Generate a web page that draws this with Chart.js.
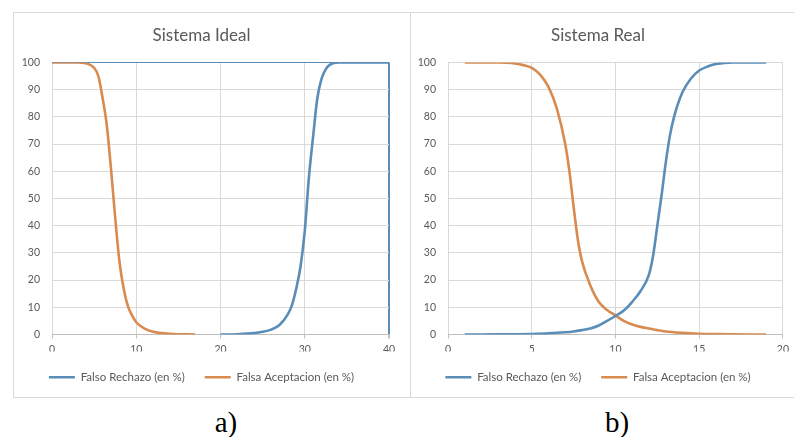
<!DOCTYPE html>
<html>
<head>
<meta charset="utf-8">
<script src="https://cdn.jsdelivr.net/npm/chart.js@4.4.1/dist/chart.umd.min.js"></script>
<style>
  html, body { margin: 0; padding: 0; background: #fff; }
  body { width: 794px; height: 437px; position: relative; overflow: hidden; }
  #frame { position: absolute; left: 13px; top: 12px; width: 800px; height: 384px;
           border: 1px solid #d9d9d9; border-right: none; }
  #divider { position: absolute; left: 410px; top: 12px; width: 1px; height: 385px; background: #d9d9d9; }
  .box { position: absolute; top: 13px; height: 384px; }
  .cap { position: absolute; top: 408px; font-family: "Liberation Serif", serif; font-size: 29px;
         line-height: 29px; color: #000; transform: translateX(-50%); }
</style>
</head>
<body>
<div id="frame"></div>
<div id="divider"></div>
<div class="box" style="left:14px;width:396px"><canvas id="ideal"></canvas></div>
<div class="box" style="left:411px;width:383px"><canvas id="real"></canvas></div>
<div class="cap" style="left:226px">a)</div>
<div class="cap" style="left:617px">b)</div>
<script>
// Sistema Ideal
const idealRechazoX = [20, 22, 24, 25, 26, 27, 28, 28.5, 29, 29.5, 30, 30.5, 31, 31.5, 32, 32.5, 33, 34, 36, 38, 40];
const idealRechazoY = [0, 0.1, 0.5, 1, 1.8, 3.5, 7.5, 11, 17, 25, 38, 58, 73, 87, 94, 97.5, 99.2, 100, 100, 100, 100];
const idealAceptX = [0, 1, 2, 3, 4, 5, 5.5, 6, 6.5, 7, 7.5, 8, 8.5, 9, 9.5, 10, 11, 12, 13, 14, 15, 16, 17];
const idealAceptY = [100, 100, 100, 100, 99.7, 98, 95, 87, 77, 61, 43, 27, 17, 10.5, 7, 4.5, 2.2, 1, 0.5, 0.25, 0.1, 0.05, 0];
const idealTicksX = [0, 10, 20, 30, 40];

// Sistema Real
const realRechazoX = [1, 2, 3, 4, 5, 6, 7, 7.5, 8, 8.5, 9, 9.5, 10, 10.5, 11, 11.5, 12, 12.25, 12.5, 12.75, 13, 13.25, 13.5, 14, 14.5, 15, 15.5, 16, 17, 18, 19];
const realRechazoY = [0, 0, 0.05, 0.1, 0.2, 0.4, 0.8, 1.1, 1.6, 2.2, 3.3, 5, 6.8, 8.8, 12, 16, 22, 29, 40, 51, 63, 73, 80, 89, 94, 97, 98.5, 99.4, 100, 100, 100];
const realAceptX = [1, 2, 3, 3.5, 4, 4.5, 5, 5.5, 6, 6.5, 7, 7.25, 7.5, 7.75, 8, 8.5, 9, 9.5, 10, 10.5, 11, 11.5, 12, 12.5, 13, 14, 15, 16, 17, 18, 19];
const realAceptY = [100, 100, 100, 99.9, 99.6, 99, 98, 95.5, 91, 83, 70, 60, 47, 35, 27, 18, 12, 9, 7, 5, 3.7, 2.8, 2.2, 1.6, 1.1, 0.6, 0.3, 0.15, 0.05, 0, 0];
const realTicksX = [0, 5, 10, 15, 20];

const yTicks = [0, 10, 20, 30, 40, 50, 60, 70, 80, 90, 100];
const seriesNames = ['Falso Rechazo (en %)', 'Falsa Aceptacion (en %)'];

const blue = '#5a8db8';
const orange = '#d98a4f';
const gridColor = '#d9d9d9';
const textColor = '#595959';

function pairs(xs, ys) {
    return xs.map((x, i) => ({ x: x, y: ys[i] }));
}

function makeChart(id, title, rechazo, acept, ticksX, opts) {
    const ctx = document.getElementById(id).getContext('2d');
    return new Chart(ctx, {
        type: 'scatter',
        data: {
            datasets: [
                { label: seriesNames[0], data: rechazo, borderColor: blue, backgroundColor: blue },
                { label: seriesNames[1], data: acept, borderColor: orange, backgroundColor: orange }
            ].map(d => Object.assign(d, {
                showLine: true, borderWidth: 2.6, pointRadius: 0, pointHoverRadius: 0,
                cubicInterpolationMode: 'monotone'
            }))
        },
        options: {
            responsive: false,
            animation: false,
            maintainAspectRatio: false,
            layout: { padding: { left: 0, right: opts.right, top: 0, bottom: 4 } },
            plugins: {
                title: {
                    display: true, text: title, color: textColor,
                    font: { family: 'Lato', size: 17, weight: 'normal' },
                    padding: { top: 12, bottom: 17 }
                },
                legend: {
                    position: 'bottom',
                    labels: {
                        usePointStyle: true, pointStyle: 'line', pointStyleWidth: 26,
                        color: textColor, padding: 20,
                        font: { family: 'Lato', size: 11.5 }
                    }
                },
                tooltip: { enabled: false }
            },
            scales: {
                x: {
                    type: 'linear', min: ticksX[0], max: ticksX[ticksX.length - 1],
                    afterBuildTicks: s => { s.ticks = ticksX.map(v => ({ value: v })); },
                    afterFit: s => { s.height = 17; },
                    grid: {
                        color: c => (opts.edge && c.tick && c.tick.value === ticksX[ticksX.length - 1]) ? blue : gridColor,
                        lineWidth: c => (opts.edge && c.tick && c.tick.value === ticksX[ticksX.length - 1]) ? 2 : 1,
                        tickLength: 4, tickColor: '#bfbfbf'
                    },
                    border: { color: '#bfbfbf' },
                    ticks: { color: textColor, padding: 5, font: { family: 'Lato', size: 10.5 } }
                },
                y: {
                    min: 0, max: 100,
                    afterBuildTicks: s => { s.ticks = yTicks.map(v => ({ value: v })); },
                    afterFit: s => { s.width = opts.yWidth; },
                    grid: {
                        color: c => (opts.edge && c.tick && c.tick.value === 100) ? blue : gridColor,
                        drawTicks: false
                    },
                    border: { display: false },
                    ticks: { color: textColor, padding: 12, font: { family: 'Lato', size: 10.5 } }
                }
            }
        }
    });
}

const idealCanvas = document.getElementById('ideal');
idealCanvas.width = 396; idealCanvas.height = 384;
const realCanvas = document.getElementById('real');
realCanvas.width = 383; realCanvas.height = 384;

makeChart('ideal', 'Sistema Ideal',
    pairs(idealRechazoX, idealRechazoY), pairs(idealAceptX, idealAceptY),
    idealTicksX, { right: 21, yWidth: 38, edge: true });

makeChart('real', 'Sistema Real',
    pairs(realRechazoX, realRechazoY), pairs(realAceptX, realAceptY),
    realTicksX, { right: 9, yWidth: 37, edge: false });
</script>
</body>
</html>
